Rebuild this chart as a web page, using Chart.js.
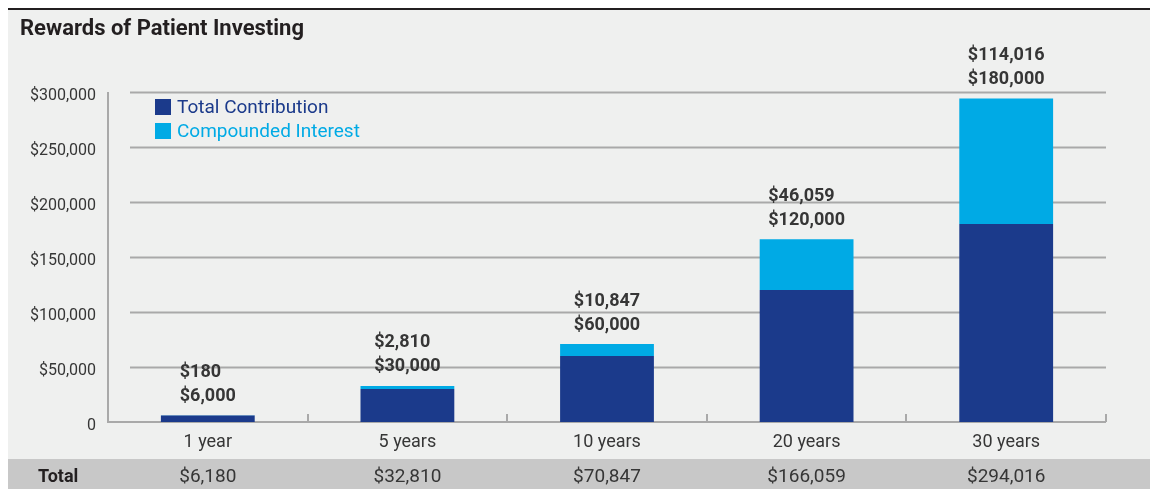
<!DOCTYPE html>
<html>
<head>
<meta charset="utf-8">
<script src="https://cdn.jsdelivr.net/npm/chart.js@4.4.1/dist/chart.umd.min.js"></script>
<style>
  html, body { margin: 0; padding: 0; background: #fff; }
  #wrap { width: 1150px; height: 489px; position: relative; }
</style>
</head>
<body>
<div id="wrap"><canvas id="chart"></canvas></div>
<script>
// Chart data
const categories = ['1 year', '5 years', '10 years', '20 years', '30 years'];
const contributions = [6000, 30000, 60000, 120000, 180000];
const interest = [180, 2810, 10847, 46059, 114016];
const yTickValues = [0, 50000, 100000, 150000, 200000, 250000, 300000];

const seriesNames = ['Total Contribution', 'Compounded Interest'];
const navy = '#1b3a8b';
const cyan = '#00aae5';
const textColor = '#363636';
const gridColor = '#a9a9a9';
const font = 'Roboto, "Open Sans", sans-serif';

const money = v => '$' + v.toLocaleString('en-US');

const decor = {
    id: 'decor',
    beforeDraw(chart) {
        const ctx = chart.ctx;
        const W = chart.width, H = chart.height;
        ctx.save();
        ctx.fillStyle = '#ffffff';
        ctx.fillRect(0, 0, W, H);
        ctx.fillStyle = '#eff0ef';
        ctx.fillRect(8, 10, W - 8, H - 10);
        // top rule
        ctx.fillStyle = '#231f20';
        ctx.fillRect(8, 8, W - 8, 2);
        // total row band
        ctx.fillStyle = '#c8c8c8';
        ctx.fillRect(8, 459, W - 8, H - 459);
        ctx.restore();
    },
    beforeDatasetsDraw(chart) {
        const ctx = chart.ctx;
        const area = chart.chartArea;
        const y = chart.scales.y;
        ctx.save();
        ctx.strokeStyle = gridColor;
        ctx.lineWidth = 2;
        // horizontal grid lines (start a little right of the axis)
        yTickValues.forEach(v => {
            if (v === 0) return;
            const py = Math.round(y.getPixelForValue(v)) + 0.5;
            ctx.beginPath();
            ctx.moveTo(area.left + 22, py);
            ctx.lineTo(area.right, py);
            ctx.stroke();
        });
        // axes
        ctx.beginPath();
        ctx.moveTo(area.left, area.top);
        ctx.lineTo(area.left, area.bottom);
        ctx.lineTo(area.right, area.bottom);
        ctx.stroke();
        // category boundary ticks pointing up
        const step = (area.right - area.left) / categories.length;
        for (let i = 1; i <= categories.length; i++) {
            const px = Math.round(area.left + step * i);
            ctx.beginPath();
            ctx.moveTo(px, area.bottom);
            ctx.lineTo(px, area.bottom - 8);
            ctx.stroke();
        }
        ctx.restore();
    },
    afterDatasetsDraw(chart) {
        const ctx = chart.ctx;
        const x = chart.scales.x;
        const y = chart.scales.y;
        ctx.save();

        // title
        ctx.fillStyle = '#231f20';
        ctx.font = 'bold 22px ' + font;
        ctx.textBaseline = 'middle';
        ctx.textAlign = 'left';
        ctx.fillText('Rewards of Patient Investing', 20, 29);

        // legend
        const legendColors = [navy, cyan];
        ctx.font = '19px ' + font;
        seriesNames.forEach((name, i) => {
            const ly = 107 + i * 24;
            ctx.fillStyle = legendColors[i];
            ctx.fillRect(155, ly - 8, 16, 16);
            ctx.fillText(name, 177, ly + 1);
        });

        // stacked value labels
        ctx.fillStyle = textColor;
        ctx.font = 'bold 18px ' + font;
        categories.forEach((c, i) => {
            const cx = x.getPixelForValue(i);
            const top = y.getPixelForValue(contributions[i] + interest[i]);
            const lower = money(contributions[i]);
            const upper = money(interest[i]);
            const w = ctx.measureText(lower).width;
            const left = cx - w / 2;
            ctx.textAlign = 'left';
            ctx.fillText(lower, left, top - 19);
            ctx.fillText(upper, left, top - 43);
        });

        // total row
        ctx.font = 'bold 18px ' + font;
        ctx.fillStyle = '#231f20';
        ctx.textAlign = 'left';
        ctx.fillText('Total', 38, 477);
        ctx.font = '19px ' + font;
        ctx.fillStyle = textColor;
        ctx.textAlign = 'center';
        categories.forEach((c, i) => {
            ctx.fillText(money(contributions[i] + interest[i]), x.getPixelForValue(i), 477);
        });
        ctx.restore();
    }
};

new Chart(document.getElementById('chart'), {
    type: 'bar',
    data: {
        labels: categories,
        datasets: [
            { label: seriesNames[0], data: contributions, backgroundColor: navy },
            { label: seriesNames[1], data: interest, backgroundColor: cyan }
        ]
    },
    options: {
        responsive: true,
        maintainAspectRatio: false,
        animation: false,
        devicePixelRatio: 1,
        layout: { padding: { top: 92, right: 44, left: 0, bottom: 0 } },
        datasets: { bar: { categoryPercentage: 1, barPercentage: 0.47 } },
        scales: {
            x: {
                stacked: true,
                grid: { display: false },
                border: { display: false },
                afterFit: s => { s.height = 67; },
                ticks: { color: textColor, font: { family: font, size: 18 }, padding: 2 }
            },
            y: {
                stacked: true,
                min: 0,
                max: 300000,
                grid: { display: false, drawTicks: false },
                border: { display: false },
                afterFit: s => { s.width = 108; },
                afterBuildTicks: s => { s.ticks = yTickValues.map(v => ({ value: v })); },
                ticks: {
                    color: textColor,
                    padding: 12,
                    labelOffset: 4,
                    font: { family: font, size: 16 },
                    callback: v => v === 0 ? '0' : money(v)
                }
            }
        },
        plugins: {
            legend: { display: false },
            tooltip: { enabled: false }
        }
    },
    plugins: [decor]
});
</script>
</body>
</html>
